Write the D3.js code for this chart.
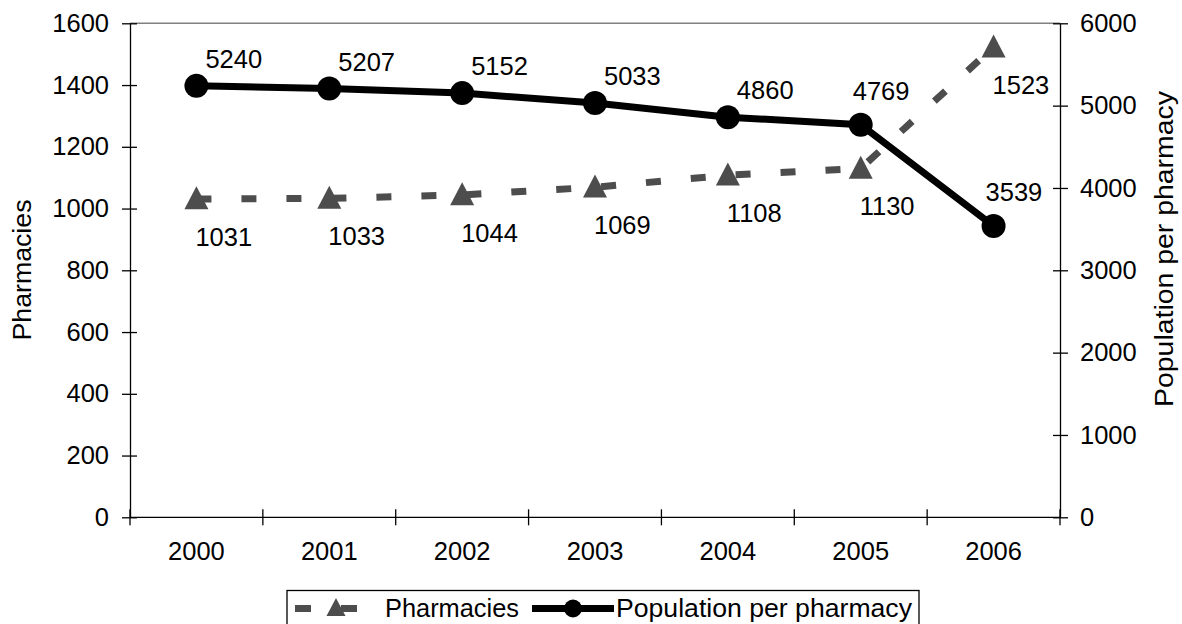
<!DOCTYPE html>
<html>
<head>
<meta charset="utf-8">
<script src="https://cdn.jsdelivr.net/npm/d3@7"></script>
<style>
  html, body { margin: 0; padding: 0; background: #fff; }
  svg { display: block; font-family: "Liberation Sans", Arial, sans-serif; }
</style>
</head>
<body>
<svg id="chart" width="1182" height="624"></svg>
<script>
const years = ["2000", "2001", "2002", "2003", "2004", "2005", "2006"];
const pharmacies = [1031, 1033, 1044, 1069, 1108, 1130, 1523];
const populationPerPharmacy = [5240, 5207, 5152, 5033, 4860, 4769, 3539];
const leftTicks = [0, 200, 400, 600, 800, 1000, 1200, 1400, 1600];
const rightTicks = [0, 1000, 2000, 3000, 4000, 5000, 6000];
const seriesNames = ["Pharmacies", "Population per pharmacy"];
const axisTitles = ["Pharmacies", "Population per pharmacy"];

const svg = d3.select("#chart");
const L = 130, R = 1060, T = 23.3, B = 517.3;
const grayC = "#4d4d4d";
const numFont = 25.5, txtFont = 26;
const fmt = d3.format("d");

const x = d3.scaleBand().domain(years).range([L, R]);
const cx = d => x(d) + x.bandwidth() / 2;
const yL = d3.scaleLinear().domain([0, 1600]).range([B, T]);
const yR = d3.scaleLinear().domain([0, 6000]).range([B, T]);

const triPath = (w, h) => `M0,${-h * 0.55}L${w / 2},${h * 0.45}L${-w / 2},${h * 0.45}Z`;

// plot area top border
svg.append("line").attr("x1", L).attr("x2", R).attr("y1", T).attr("y2", T)
  .attr("stroke", "#808080").attr("stroke-width", 1.5);

// left axis
const gL = svg.append("g").attr("transform", `translate(${L},0)`)
  .call(d3.axisLeft(yL).tickValues(leftTicks).tickFormat(fmt).tickSize(8).tickPadding(13).tickSizeOuter(0));
gL.selectAll(".tick line").attr("x1", 7);
// right axis
const gR = svg.append("g").attr("transform", `translate(${R},0)`)
  .call(d3.axisRight(yR).tickValues(rightTicks).tickFormat(fmt).tickSize(8).tickPadding(12).tickSizeOuter(0));
gR.selectAll(".tick line").attr("x1", -7);
// bottom axis (labels)
const gB = svg.append("g").attr("transform", `translate(0,${B})`)
  .call(d3.axisBottom(x).tickSize(0).tickPadding(25).tickSizeOuter(0));
gB.select(".domain").remove();
svg.append("line").attr("x1", L).attr("x2", R).attr("y1", B).attr("y2", B)
  .attr("stroke", "#000").attr("stroke-width", 1.3);
const bounds = years.map(d => x(d)).concat([R]);
svg.append("g").selectAll("line").data(bounds).join("line")
  .attr("x1", d => d).attr("x2", d => d).attr("y1", B - 8).attr("y2", B + 8)
  .attr("stroke", "#000").attr("stroke-width", 1.3);

[gL, gR, gB].forEach(g => {
  g.selectAll(".domain").attr("stroke", "#000").attr("stroke-width", 1.3);
  g.selectAll(".tick line").attr("stroke", "#000").attr("stroke-width", 1.3);
  g.selectAll("text").attr("font-size", numFont).attr("fill", "#000")
    .attr("font-family", "'Liberation Sans', Arial, sans-serif");
});

// axis titles
svg.append("text").attr("transform", `translate(31,270) rotate(-90)`)
  .attr("text-anchor", "middle").attr("font-size", txtFont)
  .attr("textLength", 141).attr("lengthAdjust", "spacingAndGlyphs").text(axisTitles[0]);
svg.append("text").attr("transform", `translate(1173,249) rotate(-90)`)
  .attr("text-anchor", "middle").attr("font-size", txtFont)
  .attr("textLength", 316).attr("lengthAdjust", "spacingAndGlyphs").text(axisTitles[1]);

// pharmacies series (dashed gray with triangles)
const lineP = d3.line().x((d, i) => cx(years[i])).y(d => yL(d));
svg.append("path").datum(pharmacies).attr("d", lineP)
  .attr("fill", "none").attr("stroke", grayC).attr("stroke-width", 7)
  .attr("stroke-dasharray", "15,30");
svg.append("g").selectAll("path").data(pharmacies).join("path")
  .attr("d", triPath(24, 23))
  .attr("transform", (d, i) => `translate(${cx(years[i])},${yL(d)})`)
  .attr("fill", grayC);

// population series
const lineQ = d3.line().x((d, i) => cx(years[i])).y(d => yR(d));
svg.append("path").datum(populationPerPharmacy).attr("d", lineQ)
  .attr("fill", "none").attr("stroke", "#000").attr("stroke-width", 7);
svg.append("g").selectAll("circle").data(populationPerPharmacy).join("circle")
  .attr("cx", (d, i) => cx(years[i])).attr("cy", d => yR(d)).attr("r", 12)
  .attr("fill", "#000");

// labels
svg.append("g").selectAll("text").data(pharmacies).join("text")
  .attr("x", (d, i) => cx(years[i]) - 1).attr("y", d => yL(d) + 47)
  .attr("font-size", numFont).text(d => d);
svg.append("g").selectAll("text").data(populationPerPharmacy).join("text")
  .attr("x", (d, i) => cx(years[i]) + (i >= 5 ? -8 : 9))
  .attr("y", (d, i) => yR(d) + (i >= 5 ? -25 : -18))
  .attr("font-size", numFont).text(d => d);

// legend
const lg = svg.append("g");
lg.append("rect").attr("x", 287).attr("y", 590.5).attr("width", 632).attr("height", 40)
  .attr("fill", "#fff").attr("stroke", "#000").attr("stroke-width", 1.3);
lg.append("line").attr("x1", 295).attr("x2", 357).attr("y1", 608.5).attr("y2", 608.5)
  .attr("stroke", grayC).attr("stroke-width", 7).attr("stroke-dasharray", "16,30");
lg.append("path").attr("d", triPath(19, 18))
  .attr("transform", "translate(336,608)").attr("fill", grayC);
lg.append("text").attr("x", 385).attr("y", 617).attr("font-size", txtFont)
  .attr("textLength", 134).attr("lengthAdjust", "spacingAndGlyphs").text(seriesNames[0]);
lg.append("line").attr("x1", 532).attr("x2", 614).attr("y1", 608.5).attr("y2", 608.5)
  .attr("stroke", "#000").attr("stroke-width", 7);
lg.append("circle").attr("cx", 573).attr("cy", 608.5).attr("r", 9).attr("fill", "#000");
lg.append("text").attr("x", 616).attr("y", 617).attr("font-size", txtFont)
  .attr("textLength", 296).attr("lengthAdjust", "spacingAndGlyphs").text(seriesNames[1]);
</script>
</body>
</html>
